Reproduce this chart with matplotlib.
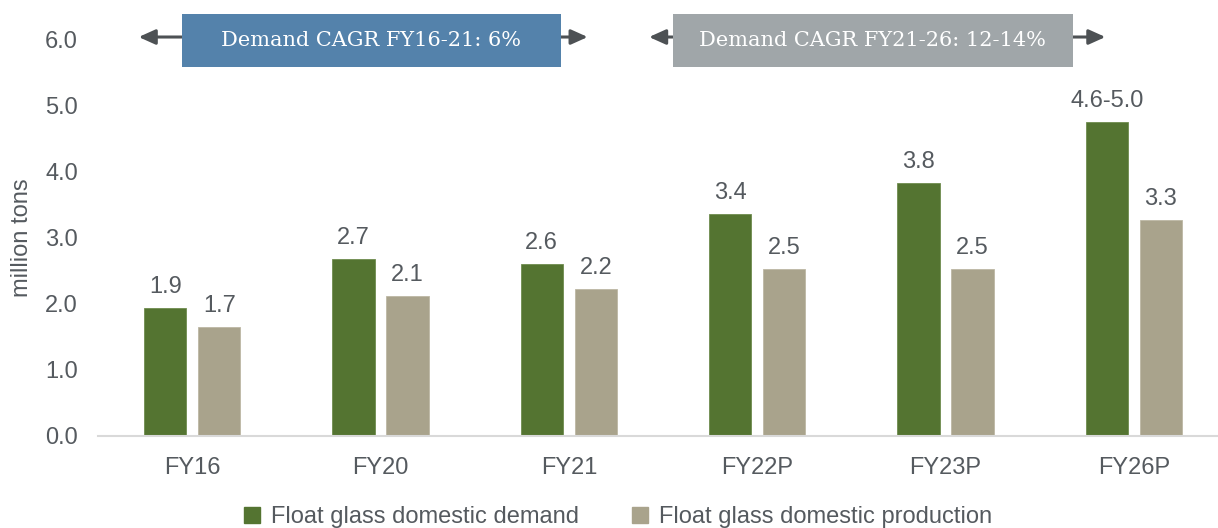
import matplotlib
matplotlib.use("Agg")
import matplotlib.pyplot as plt
from matplotlib.patches import Rectangle
from matplotlib.lines import Line2D
import numpy as np

categories = ["FY16", "FY20", "FY21", "FY22P", "FY23P", "FY26P"]
demand = [1.93, 2.68, 2.60, 3.36, 3.82, 4.75]
production = [1.65, 2.12, 2.22, 2.53, 2.53, 3.27]
demand_labels = ["1.9", "2.7", "2.6", "3.4", "3.8", "4.6-5.0"]
production_labels = ["1.7", "2.1", "2.2", "2.5", "2.5", "3.3"]
series_names = ["Float glass domestic demand", "Float glass domestic production"]
yticks = [0.0, 1.0, 2.0, 3.0, 4.0, 5.0, 6.0]
banner_texts = ["Demand CAGR FY16-21: 6%", "Demand CAGR FY21-26: 12-14%"]

GREEN = "#547431"
TAN = "#A9A38C"
TXT = "#555a5f"
SANS = ["Liberation Sans", "DejaVu Sans"]
SERIF = ["DejaVu Serif", "Liberation Serif"]
FS = 17

plt.rcParams["font.family"] = SANS

W, H = 1218, 528
fig = plt.figure(figsize=(W / 100, H / 100), dpi=100)
ax = fig.add_axes([98 / W, (H - 436) / H, (1228 - 98) / W, (436 - 39) / H])

x = np.arange(len(categories))
bw = 0.225
off = 0.1435
ax.bar(x - off, demand, bw, color=GREEN, edgecolor="#6f8c4f", linewidth=0.6)
ax.bar(x + off, production, bw, color=TAN, edgecolor="#bdb8a4", linewidth=0.6)

for xi, v, lab in zip(x, demand, demand_labels):
    ax.text(xi - off, v + 0.15, lab, ha="center", va="bottom", fontsize=FS, color=TXT)
for xi, v, lab in zip(x, production, production_labels):
    ax.text(xi + off, v + 0.15, lab, ha="center", va="bottom", fontsize=FS, color=TXT)

ax.set_xlim(-0.5, 5.5)
ax.set_ylim(0, 6)
ax.set_yticks(yticks)
ax.set_yticklabels([f"{t:.1f}" for t in yticks], fontsize=FS, color=TXT)
ax.set_xticks(x)
ax.set_xticklabels(categories, fontsize=FS, color=TXT)
ax.tick_params(axis="both", length=0)
ax.tick_params(axis="y", pad=14.5)
ax.tick_params(axis="x", pad=15)
for s in ["top", "right", "left"]:
    ax.spines[s].set_visible(False)
ax.spines["bottom"].set_color("#d9d9d9")
ax.spines["bottom"].set_linewidth(1.5)
ax.set_ylabel("million tons", fontsize=FS, color=TXT)
ax.yaxis.set_label_coords(-0.0575, 0.5)

banners = [
    (-0.056, 1.957, -0.284, 2.10, "#5482ab"),
    (2.551, 4.677, 2.426, 4.849, "#a0a6a9"),
]
for (x0, x1, a0, a1, col), txt in zip(banners, banner_texts):
    ym = 6.03
    ax.add_patch(Rectangle((x0, 5.57), x1 - x0, 0.81, facecolor=col, edgecolor="none",
                           clip_on=False, zorder=3))
    for tip, base in [(a0, x0), (a1, x1)]:
        ax.annotate("", xy=(tip, ym), xytext=(base, ym),
                    arrowprops=dict(arrowstyle="-|>,head_length=1.0,head_width=0.45",
                                    color="#4d5154", lw=2.2, shrinkA=0, shrinkB=0),
                    annotation_clip=False, zorder=2)
    ax.text((x0 + x1) / 2, 5.97, txt, ha="center", va="center", fontsize=15,
            color="white", family=SERIF, zorder=4)

handles = [Line2D([], [], marker="s", linestyle="none", markersize=11,
                  markerfacecolor=c, markeredgecolor=c) for c in (GREEN, TAN)]
fig.legend(handles, series_names, loc="center", bbox_to_anchor=(0.501, (H - 517) / H),
           ncol=2, frameon=False, fontsize=FS, handletextpad=-0.2, columnspacing=1.6,
           labelcolor=TXT)

fig.savefig("out.png", dpi=100)
